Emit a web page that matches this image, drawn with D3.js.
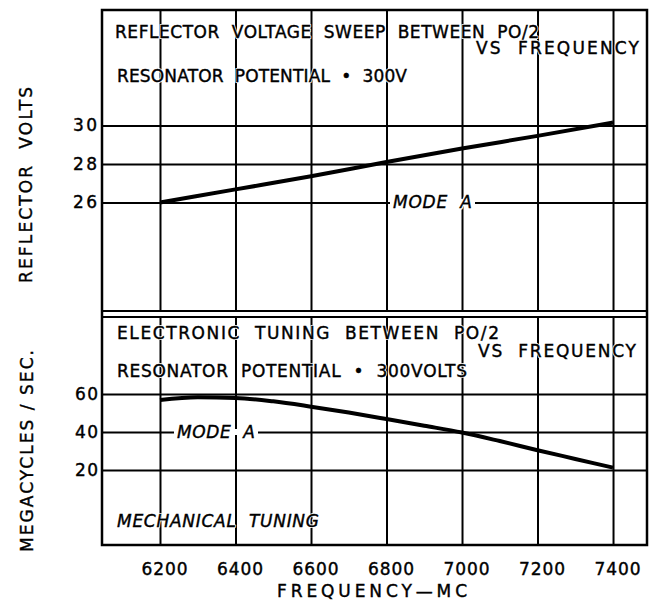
<!DOCTYPE html>
<html><head><meta charset="utf-8">
<script src="https://cdn.jsdelivr.net/npm/d3@7"></script>
<style>
html,body{margin:0;padding:0;background:#fff;}
svg{display:block;}
text{font-family:"DejaVu Sans",Arial,sans-serif;white-space:pre;}
</style>
</head><body>
<svg id="c" width="655" height="609"></svg>
<script>
// ---- data ----
const freqTicks = [6200, 6400, 6600, 6800, 7000, 7200, 7400];
const topTicks = [26, 28, 30];
const bottomTicks = [20, 40, 60];
const reflectorFreq = [6200, 6400, 6600, 6800, 7000, 7200, 7400];
const reflectorVolts = [26.0, 26.68, 27.36, 28.1, 28.8, 29.46, 30.15];
const tuningFreq = [6200, 6300, 6400, 6500, 6600, 6700, 6800, 6900, 7000, 7100, 7200, 7300, 7400];
const tuningMc = [56.8, 58.2, 57.9, 56.1, 53.3, 50.2, 46.8, 43.3, 39.7, 35.2, 30.4, 25.8, 21.2];

// ---- layout ----
const L = 102, R = 647, T = 10, B = 545, midTop = 311, midBot = 317;
const FONT = "'DejaVu Sans', Arial, sans-serif";
const svg = d3.select("#c");
svg.append("rect").attr("width", 655).attr("height", 609).attr("fill", "#fff");

const x = d3.scaleLinear().domain([6046.4, 7490]).range([L, R]);
const yTop = d3.scaleLinear().domain([20.36, 36.0]).range([midTop, T]);
const yBot = d3.scaleLinear().domain([-19.5, 100.5]).range([B, midBot]);

function styleAxis(g) {
  g.select(".domain").remove();
  g.selectAll("line").attr("stroke", "#000").attr("stroke-width", 2);
  g.selectAll("text").attr("fill", "#000").attr("font-size", 17)
    .attr("stroke", "#000").attr("stroke-width", 0.4)
    .attr("font-family", FONT);
}

// vertical gridlines, top panel
svg.append("g").attr("transform", `translate(0,${midTop})`)
  .call(d3.axisBottom(x).tickValues(freqTicks).tickSize(-(midTop - T)).tickFormat(""))
  .call(styleAxis);
// vertical gridlines, bottom panel
svg.append("g").attr("transform", `translate(0,${B})`)
  .call(d3.axisBottom(x).tickValues(freqTicks).tickSize(-(B - midBot)).tickFormat(""))
  .call(styleAxis);

// horizontal gridlines + y labels
svg.append("g").attr("transform", `translate(${L},0)`)
  .call(d3.axisLeft(yTop).tickValues(topTicks).tickSize(-(R - L)).tickPadding(5).tickFormat(d3.format("d")))
  .call(styleAxis)
  .call(g => g.selectAll("text").attr("textLength", 24).attr("lengthAdjust", "spacing"));
svg.append("g").attr("transform", `translate(${L},0)`)
  .call(d3.axisLeft(yBot).tickValues(bottomTicks).tickSize(-(R - L)).tickPadding(4).tickFormat(d3.format("d")))
  .call(styleAxis)
  .call(g => g.selectAll("text").attr("textLength", 23).attr("lengthAdjust", "spacing"));

// x labels
svg.append("g").attr("transform", `translate(0,${B})`)
  .call(d3.axisBottom(x).tickValues(freqTicks).tickSize(0).tickPadding(17.5).tickFormat(d3.format("d")))
  .call(styleAxis)
  .call(g => g.selectAll("text").attr("dx", 4).attr("textLength", 46).attr("lengthAdjust", "spacing"));

// frame
svg.append("rect").attr("x", L).attr("y", T).attr("width", R - L).attr("height", B - T)
  .attr("fill", "none").attr("stroke", "#000").attr("stroke-width", 2.5);
svg.append("line").attr("x1", L).attr("x2", R).attr("y1", midTop).attr("y2", midTop)
  .attr("stroke", "#000").attr("stroke-width", 2);
svg.append("line").attr("x1", L).attr("x2", R).attr("y1", midBot).attr("y2", midBot)
  .attr("stroke", "#000").attr("stroke-width", 2);

// curves
const topData = reflectorFreq.map((f, i) => [f, reflectorVolts[i]]);
const botData = tuningFreq.map((f, i) => [f, tuningMc[i]]);
svg.append("path").datum(topData)
  .attr("d", d3.line().x(d => x(d[0])).y(d => yTop(d[1])).curve(d3.curveMonotoneX))
  .attr("fill", "none").attr("stroke", "#000").attr("stroke-width", 4);
svg.append("path").datum(botData)
  .attr("d", d3.line().x(d => x(d[0])).y(d => yBot(d[1])).curve(d3.curveMonotoneX))
  .attr("fill", "none").attr("stroke", "#000").attr("stroke-width", 4);

// text helper
function label(txt, xx, yy, len, opt = {}) {
  const g = svg.append("g");
  if (opt.gap) {
    // break the gridline behind the label
    const x0 = opt.anchor === "middle" ? xx - len / 2 : xx;
    g.append("rect").attr("x", x0 - 3).attr("y", yy - 3).attr("width", len + 6).attr("height", 6).attr("fill", "#fff");
  }
  const halo = opt.halo || 0;
  [halo, 0].forEach((h, i) => {
    if (i === 0 && !h) return;
    const t = g.append("text").attr("x", xx).attr("y", yy).attr("dy", "0.36em")
      .attr("font-size", opt.size || 17)
      .attr("font-style", opt.italic ? "italic" : "normal")
      .attr("text-anchor", opt.anchor || "start")
      .attr("textLength", len).attr("lengthAdjust", "spacing")
      .text(txt);
    if (i === 0) t.attr("fill", "#fff").attr("stroke", "#fff").attr("stroke-width", h).attr("stroke-linejoin", "round");
    else t.attr("fill", "#000").attr("stroke", "#000").attr("stroke-width", 0.4);
    if (opt.rotate) t.attr("transform", `rotate(-90,${xx},${yy})`);
  });
}

// top panel texts
label("REFLECTOR  VOLTAGE  SWEEP  BETWEEN  PO/2", 115, 32, 424, {halo: 2});
label("VS  FREQUENCY", 476, 48, 163, {halo: 2});
label("RESONATOR  POTENTIAL  \u2022  300V", 117, 76, 290, {halo: 2});
label("MODE  A", 393, 202, 79, {italic: true, gap: true, halo: 3});

// bottom panel texts
label("ELECTRONIC  TUNING  BETWEEN  PO/2", 117, 333, 382, {halo: 2});
label("VS  FREQUENCY", 478, 351, 158, {halo: 2});
label("RESONATOR  POTENTIAL  \u2022  300VOLTS", 117, 371, 350, {halo: 2});
label("MODE  A", 177, 432, 78, {italic: true, gap: true, halo: 3});
label("MECHANICAL  TUNING", 117, 521, 202, {italic: true, halo: 2});

// axis titles
label("FREQUENCY\u2014MC", 372, 591, 190, {anchor: "middle"});
label("REFLECTOR  VOLTS", 26, 185, 196, {anchor: "middle", rotate: true});
label("MEGACYCLES / SEC.", 27, 451, 202, {anchor: "middle", rotate: true});
</script>
</body></html>
